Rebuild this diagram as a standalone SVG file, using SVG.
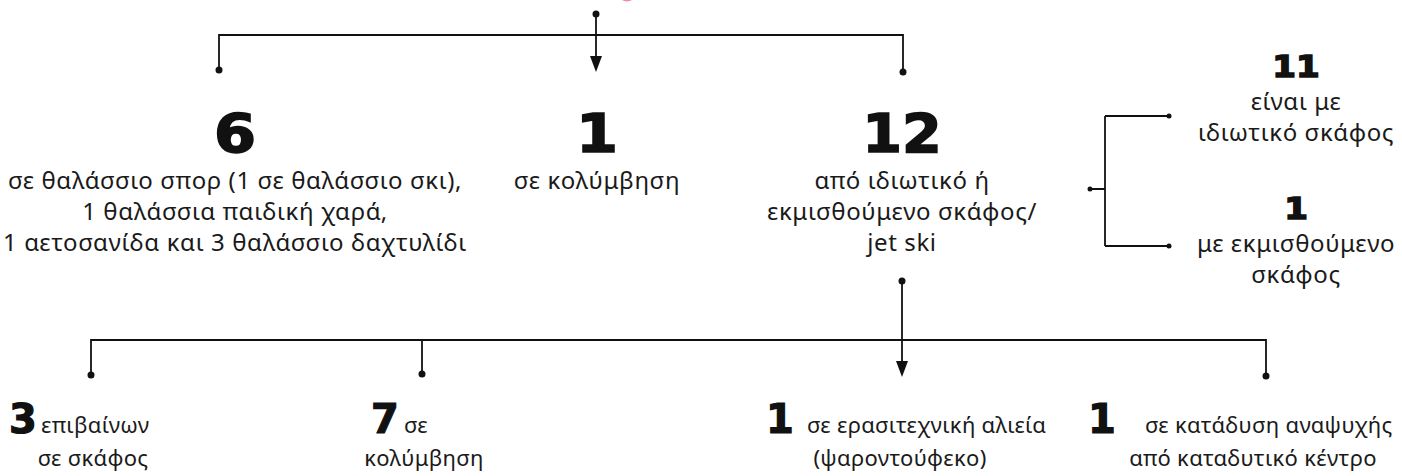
<svg xmlns="http://www.w3.org/2000/svg" width="1402" height="476" viewBox="0 0 1402 476">
<defs>
<style>
.t{font-family:"Noto Sans","DejaVu Sans",sans-serif;font-size:24px;letter-spacing:0.6px;fill:#1a1a1a;text-anchor:middle}
.b{font-family:"Noto Sans","DejaVu Sans",sans-serif;font-size:22px;letter-spacing:0.3px;fill:#1a1a1a}
.n{font-family:"DejaVu Sans",sans-serif;font-weight:bold;fill:#111;stroke:#111;stroke-width:1.6;text-anchor:middle}
.nb{font-family:"DejaVu Sans",sans-serif;font-weight:bold;font-size:40px;fill:#111;stroke:#111;stroke-width:1.2}
.l{fill:none;stroke:#111;stroke-width:1.8}
.d{fill:#111}
</style>
</defs>
<rect width="1402" height="476" fill="#fff"/>
<ellipse cx="627" cy="-5" rx="8" ry="6.5" fill="#f28a9c"/>
<g id="connectors">
<path class="l" d="M219,70 V35 H903 V71"/>
<path class="l" d="M596,14 V56"/>
<polygon points="590,56 602,56 596,72" class="d"/>
<path class="l" d="M1090,189 H1105 M1105,116 V246 M1105,116 H1169 M1105,246 H1169"/>
<path class="l" d="M91,375 V340 H1266 V376 M422,340 V374"/>
<path class="l" d="M902,281 V361"/>
<polygon points="896,361 908,361 902,377" class="d"/>
<circle class="d" cx="596" cy="14" r="3.5"/>
<circle class="d" cx="219" cy="70" r="3.5"/>
<circle class="d" cx="903" cy="72" r="3.5"/>
<circle class="d" cx="1090" cy="189" r="2.5"/>
<circle class="d" cx="1169" cy="116" r="2.5"/>
<circle class="d" cx="1169" cy="246" r="2.5"/>
<circle class="d" cx="902" cy="281" r="3.5"/>
<circle class="d" cx="91" cy="375" r="3.5"/>
<circle class="d" cx="422" cy="374" r="3.5"/>
<circle class="d" cx="1266" cy="376" r="3.5"/>
</g>
<g id="node-6">
<text class="n" transform="translate(235,152) scale(1.12,1)" font-size="54">6</text>
<text class="t" x="235" y="189">σε θαλάσσιο σπορ (1 σε θαλάσσιο σκι),</text>
<text class="t" x="235" y="220">1 θαλάσσια παιδική χαρά,</text>
<text class="t" x="235" y="251">1 αετοσανίδα και 3 θαλάσσιο δαχτυλίδι</text>
</g>
<g id="node-1">
<text class="n" transform="translate(597,152) scale(1.12,1)" font-size="54">1</text>
<text class="t" x="597" y="189">σε κολύμβηση</text>
</g>
<g id="node-12">
<text class="n" transform="translate(902,152) scale(1.06,1)" font-size="54">12</text>
<text class="t" x="902" y="189">από ιδιωτικό ή</text>
<text class="t" x="902" y="220">εκμισθούμενο σκάφος/</text>
<text class="t" x="902" y="251">jet ski</text>
</g>
<g id="node-11">
<text class="n" transform="translate(1296,77) scale(1.1,1)" font-size="31">11</text>
<text class="t" x="1296" y="110">είναι με</text>
<text class="t" x="1296" y="141">ιδιωτικό σκάφος</text>
</g>
<g id="node-1b">
<text class="n" transform="translate(1296,219) scale(1.1,1)" font-size="31">1</text>
<text class="t" x="1296" y="252">με εκμισθούμενο</text>
<text class="t" x="1296" y="283">σκάφος</text>
</g>
<g id="node-3">
<text class="nb" x="9" y="433">3</text>
<text class="b" x="41" y="433">επιβαίνων</text>
<text class="b" x="93" y="466" text-anchor="middle">σε σκάφος</text>
</g>
<g id="node-7">
<text class="nb" x="371" y="433">7</text>
<text class="b" x="404" y="433">σε</text>
<text class="b" x="424" y="466" text-anchor="middle">κολύμβηση</text>
</g>
<g id="node-1c">
<text class="nb" x="766" y="433">1</text>
<text class="b" x="807" y="433" letter-spacing="0">σε ερασιτεχνική αλιεία</text>
<text class="b" x="900" y="466" text-anchor="middle" letter-spacing="0">(ψαροντούφεκο)</text>
</g>
<g id="node-1d">
<text class="nb" x="1088" y="433">1</text>
<text class="b" x="1145" y="433">σε κατάδυση αναψυχής</text>
<text class="b" x="1253" y="466" text-anchor="middle">από καταδυτικό κέντρο</text>
</g>
</svg>
